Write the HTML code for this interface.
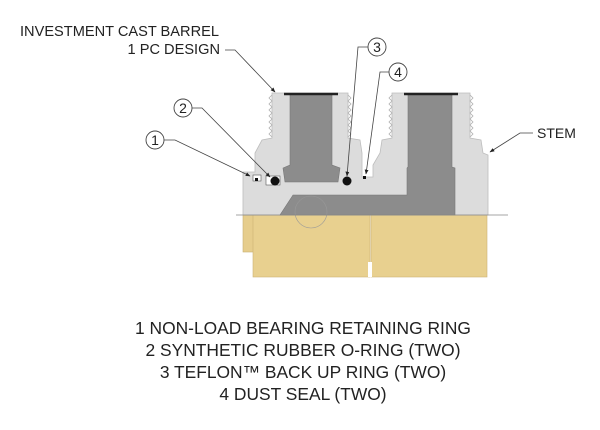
<!DOCTYPE html>
<html><head><meta charset="utf-8"><style>
html,body{margin:0;padding:0;background:#fff;width:600px;height:430px;overflow:hidden}
svg{display:block}
text{font-family:"Liberation Sans",sans-serif;fill:#222}
</style></head><body>
<svg width="600" height="430" viewBox="0 0 600 430" xmlns="http://www.w3.org/2000/svg">
<defs><marker id="a" viewBox="0 0 10 10" refX="9" refY="5" markerWidth="6" markerHeight="6" orient="auto"><path d="M0 1 L10 5 L0 9 Z" fill="#222"/></marker></defs>
<rect x="243" y="215" width="12" height="37" fill="#e6cd8c" stroke="#c8b070" stroke-width="0.6"/>
<rect x="253" y="215" width="117" height="62" fill="#e8d08f" stroke="#cbb375" stroke-width="0.6"/>
<rect x="371" y="215" width="116" height="62" fill="#e8d08f" stroke="#cbb375" stroke-width="0.6"/>
<rect x="368" y="262" width="4" height="15" fill="#fff"/>
<path d="M243 215 L243 172 L255 172 L255 153 L262 140 L272 138 L272 93 L348 93 L348 138 L360 140 L362 153 L362 177 L373 177 L373 165 L380 153 L382 140 L392 138 L392 93 L470 93 L470 138 L481 140 L483 153 L488 155 L488 215 Z" fill="#dcdcdc" stroke="#bdbdbd" stroke-width="0.8"/>
<path d="M272 95 l-3 3 l3 3 l-3 3 l3 3 l-3 3 l3 3 l-3 3 l3 3 l-3 3 l3 3 l-3 3 l3 3 l-3 3 l3 3 M348 95 l3 3 l-3 3 l3 3 l-3 3 l3 3 l-3 3 l3 3 l-3 3 l3 3 l-3 3 l3 3 l-3 3 l3 3 l-3 3 M392 95 l-3 3 l3 3 l-3 3 l3 3 l-3 3 l3 3 l-3 3 l3 3 l-3 3 l3 3 l-3 3 l3 3 l-3 3 l3 3 M470 95 l3 3 l-3 3 l3 3 l-3 3 l3 3 l-3 3 l3 3 l-3 3 l3 3 l-3 3 l3 3 l-3 3 l3 3 l-3 3" fill="none" stroke="#b0b0b0" stroke-width="0.8"/>
<path d="M290 94 L332 94 L332 165 L340 168 L338 182 L285 182 L283 168 L290 165 Z" fill="#8c8c8c" stroke="#777" stroke-width="0.6"/>
<path d="M408 94 L452 94 L452 167 L455 168 L455 215 L280 215 L293 195 L407 195 L407 168 L408 167 Z" fill="#8c8c8c" stroke="#777" stroke-width="0.6"/>
<circle cx="311" cy="212" r="16" fill="none" stroke="#999" stroke-width="0.6"/>
<line x1="284" y1="94" x2="338" y2="94" stroke="#222" stroke-width="2.5"/>
<line x1="404" y1="94" x2="458" y2="94" stroke="#222" stroke-width="2.5"/>
<rect x="253" y="175" width="8" height="6" fill="#fff" stroke="#555" stroke-width="0.6"/>
<rect x="266" y="176" width="14" height="9" fill="#fff" stroke="#555" stroke-width="0.6"/>
<rect x="255" y="178" width="3" height="3" fill="#111"/>
<circle cx="275" cy="181" r="4.5" fill="#111"/>
<circle cx="347" cy="181" r="4.5" fill="#111"/>
<rect x="363" y="176" width="3" height="3" fill="#111"/>
<line x1="236" y1="215" x2="508" y2="215" stroke="#888" stroke-width="0.7"/>
<g fill="none" stroke="#444" stroke-width="0.8" marker-end="url(#a)">
<path d="M225 50 L235 50 L275 92"/>
<path d="M164 140 L175 140 L250 176"/>
<path d="M192 108 L202 108 L270 177"/>
<path d="M368 47 L358 47 L347 176"/>
<path d="M389 72 L380 72 L366 174"/>
<path d="M533 133 L520 133 L490 152"/>
</g>
<g fill="#fff" stroke="#444" stroke-width="0.9">
<circle cx="155" cy="140" r="9"/><circle cx="183" cy="108" r="9"/>
<circle cx="377" cy="47" r="9"/><circle cx="398" cy="72" r="9"/>
</g>
<g font-size="14" text-anchor="middle">
<text x="155" y="145">1</text><text x="183" y="113">2</text>
<text x="377" y="52">3</text><text x="398" y="77">4</text>
</g>
<text x="20" y="36" font-size="14.6">INVESTMENT CAST BARREL</text>
<text x="220" y="54" font-size="14.6" text-anchor="end">1 PC DESIGN</text>
<text x="537" y="138" font-size="14">STEM</text>
<g font-size="17.4" text-anchor="middle" style="fill:#1a1a1a">
<text x="303" y="334">1 NON-LOAD BEARING RETAINING RING</text>
<text x="303" y="356">2 SYNTHETIC RUBBER O-RING (TWO)</text>
<text x="303" y="378">3 TEFLON™ BACK UP RING (TWO)</text>
<text x="303" y="400">4 DUST SEAL (TWO)</text>
</g>
</svg>
</body></html>
